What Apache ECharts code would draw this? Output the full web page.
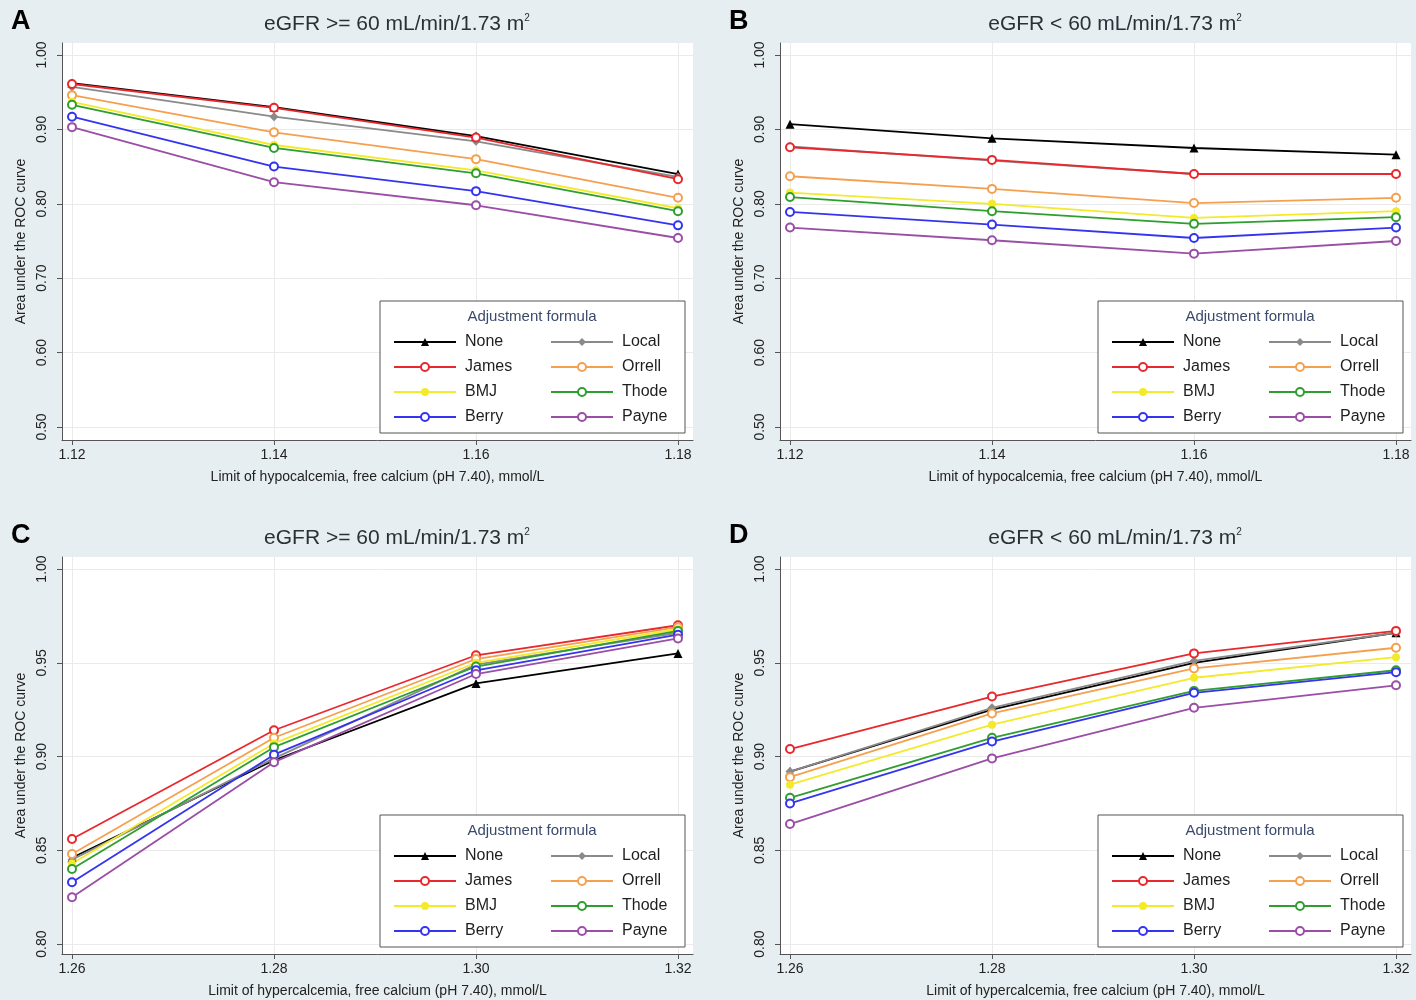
<!DOCTYPE html>
<html>
<head>
<meta charset="utf-8">
<script src="https://cdn.jsdelivr.net/npm/echarts@6/dist/echarts.min.js"></script>
<style>
  html, body { margin: 0; padding: 0; background: #e7eef1; }
  #chart { width: 1416px; height: 1000px; }
</style>
</head>
<body>
<div id="chart"></div>
<script>
// x categories (calcium limits)
const hypoLimits = [1.12, 1.14, 1.16, 1.18];
const hyperLimits = [1.26, 1.28, 1.30, 1.32];
const formulas = ['None', 'Local', 'James', 'Orrell', 'BMJ', 'Thode', 'Berry', 'Payne'];
const ticksHypoY = [0.50, 0.60, 0.70, 0.80, 0.90, 1.00];
const ticksHyperY = [0.80, 0.85, 0.90, 0.95, 1.00];

// AUC values, rows follow `formulas`
// A: hypocalcemia, eGFR >= 60
const aucA = [
  [0.962, 0.930, 0.891, 0.840],
  [0.957, 0.917, 0.884, 0.836],
  [0.961, 0.929, 0.889, 0.833],
  [0.946, 0.896, 0.860, 0.808],
  [0.937, 0.879, 0.845, 0.794],
  [0.933, 0.875, 0.841, 0.790],
  [0.917, 0.850, 0.817, 0.771],
  [0.903, 0.829, 0.798, 0.754]
];
// B: hypocalcemia, eGFR < 60
const aucB = [
  [0.907, 0.888, 0.875, 0.866],
  [0.877, 0.858, 0.840, 0.840],
  [0.876, 0.859, 0.840, 0.840],
  [0.837, 0.820, 0.801, 0.808],
  [0.815, 0.800, 0.781, 0.790],
  [0.809, 0.790, 0.773, 0.782],
  [0.789, 0.772, 0.754, 0.768],
  [0.768, 0.751, 0.733, 0.750]
];
// C: hypercalcemia, eGFR >= 60
const aucC = [
  [0.846, 0.898, 0.939, 0.955],
  [0.845, 0.899, 0.949, 0.966],
  [0.856, 0.914, 0.954, 0.970],
  [0.848, 0.910, 0.952, 0.969],
  [0.843, 0.907, 0.950, 0.968],
  [0.840, 0.905, 0.948, 0.967],
  [0.833, 0.901, 0.946, 0.965],
  [0.825, 0.897, 0.944, 0.963]
];
// D: hypercalcemia, eGFR < 60
const aucD = [
  [0.892, 0.925, 0.950, 0.966],
  [0.892, 0.926, 0.951, 0.966],
  [0.904, 0.932, 0.955, 0.967],
  [0.889, 0.923, 0.947, 0.958],
  [0.885, 0.917, 0.942, 0.953],
  [0.878, 0.910, 0.935, 0.946],
  [0.875, 0.908, 0.934, 0.945],
  [0.864, 0.899, 0.926, 0.938]
];

const colors = ['#000000', '#8a8a8a', '#e8282c', '#f5a04e', '#f2ea2a', '#2f9e2f', '#3434f0', '#9a4ea6'];
const symbols = ['triangle', 'diamond', 'emptyCircle', 'emptyCircle', 'circle', 'emptyCircle', 'emptyCircle', 'emptyCircle'];

const FONT = '"Liberation Sans", Arial, sans-serif';
const titleHi = 'eGFR >= 60 mL/min/1.73 m{s|2}';
const titleLo = 'eGFR < 60 mL/min/1.73 m{s|2}';
const xNameHypo = 'Limit of hypocalcemia, free calcium (pH 7.40), mmol/L';
const xNameHyper = 'Limit of hypercalcemia, free calcium (pH 7.40), mmol/L';

// panel layout: origin offsets
const panels = [
  {letter: 'A', ox: 0,   oy: 0,   title: titleHi, xs: hypoLimits,  auc: aucA, yt: ticksHypoY,  ymin: 0.4825, ymax: 1.0161, xName: xNameHypo},
  {letter: 'B', ox: 718, oy: 0,   title: titleLo, xs: hypoLimits,  auc: aucB, yt: ticksHypoY,  ymin: 0.4825, ymax: 1.0161, xName: xNameHypo},
  {letter: 'C', ox: 0,   oy: 514, title: titleHi, xs: hyperLimits, auc: aucC, yt: ticksHyperY, ymin: 0.7947, ymax: 1.0064, xName: xNameHyper},
  {letter: 'D', ox: 718, oy: 514, title: titleLo, xs: hyperLimits, auc: aucD, yt: ticksHyperY, ymin: 0.7947, ymax: 1.0064, xName: xNameHyper}
];

const grid = [], xAxis = [], yAxis = [], series = [], legend = [], graphic = [];

panels.forEach((p, i) => {
  const ox = p.ox, oy = p.oy;
  grid.push({
    left: 62 + ox, top: 43 + oy, width: 631, height: 397,
    show: true, backgroundColor: '#ffffff', borderWidth: 0
  });
  const step = (p.xs[3] - p.xs[0]) / 606;
  xAxis.push({
    type: 'value', gridIndex: i,
    min: p.xs[0] - 10 * step, max: p.xs[3] + 15 * step,
    name: p.xName, nameLocation: 'middle', nameGap: 30,
    nameTextStyle: {fontFamily: FONT, fontSize: 14, color: '#222'},
    axisLine: {show: true, lineStyle: {color: '#555', width: 1}},
    axisTick: {show: true, length: 5, customValues: p.xs, lineStyle: {color: '#555'}},
    axisLabel: {customValues: p.xs, formatter: v => v.toFixed(2), margin: 8,
      fontFamily: FONT, fontSize: 14, color: '#222'},
    splitLine: {show: true, lineStyle: {color: '#eaeaea', width: 1}}
  });
  yAxis.push({
    type: 'value', gridIndex: i, min: p.ymin, max: p.ymax,
    name: 'Area under the ROC curve', nameLocation: 'middle', nameGap: 34,
    nameTextStyle: {fontFamily: FONT, fontSize: 14, color: '#222'},
    axisLine: {show: true, lineStyle: {color: '#555', width: 1}},
    axisTick: {show: true, length: 5, customValues: p.yt, lineStyle: {color: '#555'}},
    axisLabel: {customValues: p.yt, formatter: v => v.toFixed(2), rotate: 90, margin: 13,
      fontFamily: FONT, fontSize: 14, color: '#222'},
    splitLine: {show: true, lineStyle: {color: '#eaeaea', width: 1}}
  });
  formulas.forEach((f, k) => {
    series.push({
      name: f, type: 'line', xAxisIndex: i, yAxisIndex: i,
      data: p.xs.map((x, j) => [x, p.auc[k][j]]),
      symbol: symbols[k], symbolSize: k < 2 ? 9 : 8,
      showAllSymbol: true,
      lineStyle: {color: colors[k], width: 1.8},
      itemStyle: {color: colors[k], borderWidth: 1.5},
      emphasis: {disabled: true}, animation: false
    });
  });
  // legend: two columns
  const legCommon = {
    orient: 'vertical', top: 329 + oy, itemWidth: 62, itemHeight: 10, itemGap: 9,
    selectedMode: false, z: 6,
    textStyle: {fontFamily: FONT, fontSize: 16, color: '#1e1e1e', padding: [0, 0, 0, 4]}
  };
  legend.push(Object.assign({}, legCommon, {left: 388 + ox, data: ['None', 'James', 'BMJ', 'Berry']}));
  legend.push(Object.assign({}, legCommon, {left: 545 + ox, data: ['Local', 'Orrell', 'Thode', 'Payne']}));
  graphic.push({
    type: 'rect', z: 5, shape: {x: 380 + ox, y: 301 + oy, width: 305, height: 132},
    style: {fill: '#ffffff', stroke: '#555', lineWidth: 1}
  });
  graphic.push({
    type: 'text', z: 6, x: 532 + ox, y: 317 + oy,
    style: {text: 'Adjustment formula', fontFamily: FONT, fontSize: 15, fill: '#3b4a6b',
      align: 'center', verticalAlign: 'middle'}
  });
  // panel title and letter
  graphic.push({
    type: 'text', z: 6, x: 397 + ox, y: 24 + oy,
    style: {text: p.title, fontFamily: FONT, fontSize: 21, fill: '#2b2f36',
      align: 'center', verticalAlign: 'middle',
      rich: {s: {fontFamily: FONT, fontSize: 10, verticalAlign: 'top', fill: '#2b2f36'}}}
  });
  graphic.push({
    type: 'text', z: 6, x: 11 + ox, y: 22 + oy,
    style: {text: p.letter, fontFamily: FONT, fontSize: 27, fontWeight: 'bold', fill: '#000',
      align: 'left', verticalAlign: 'middle'}
  });
});

const myChart = echarts.init(document.getElementById('chart'));
myChart.setOption({
  animation: false,
  backgroundColor: '#e7eef1',
  grid: grid,
  xAxis: xAxis,
  yAxis: yAxis,
  legend: legend,
  graphic: graphic,
  series: series
});
</script>
</body>
</html>
